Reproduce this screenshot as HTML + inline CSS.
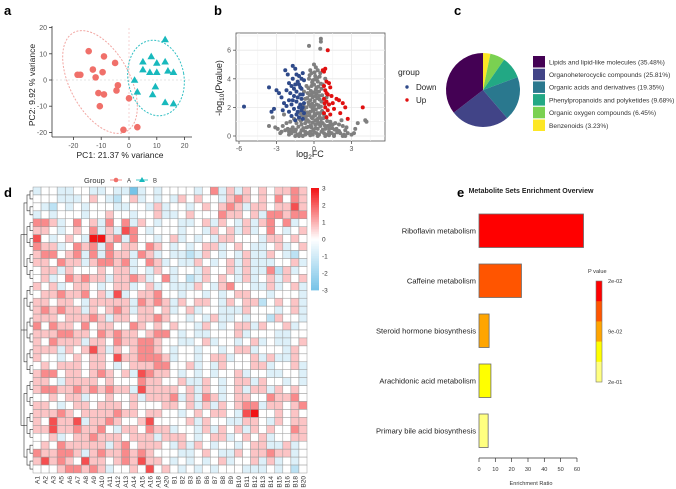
<!DOCTYPE html>
<html><head><meta charset="utf-8">
<style>
html,body{margin:0;padding:0;background:#fff;}
body{width:676px;height:489px;overflow:hidden;position:relative;font-family:"Liberation Sans",sans-serif;}
svg{position:absolute;left:0;top:0;}
</style></head>
<body>
<svg id="fig" width="676" height="489" viewBox="0 0 676 489" xmlns="http://www.w3.org/2000/svg">
<g font-family="Liberation Sans, sans-serif" font-weight="bold" font-size="13" fill="#000">
<text x="4" y="15">a</text>
<text x="214" y="15">b</text>
<text x="454" y="15">c</text>
<text x="4" y="197">d</text>
<text x="457" y="197">e</text>
</g>
<g id="pca"></g>
<g id="volcano"></g>
<g id="pie"></g>
<g id="heat"></g>
<g id="enrich"></g>
</svg>
<script>
const NS="http://www.w3.org/2000/svg";
function mk(parent,tag,attrs,text){const e=document.createElementNS(NS,tag);for(const k in attrs)e.setAttribute(k,attrs[k]);if(text!==undefined)e.textContent=text;parent.appendChild(e);return e;}

/* ---------- Panel a: PCA ---------- */
const pcaGroupA=[[-14.5,11],[-9,9],[-5,6.5],[-13,4],[-18.5,2],[-17.5,2],[-9.5,3],[-12,1],[-4,-2],[-4.5,-4],[-11,-5],[-9,-5.5],[0,-7],[-10.5,-10],[-2,-19],[3,-18]];
const pcaGroupB=[[13,15.5],[8,9],[5,7],[10,6.5],[13,7],[5,4],[7.5,3],[10,3],[14,3.5],[16,3],[2,0],[9.5,-2.5],[3,-4.5],[8.5,-5.5],[13,-8.5],[16,-9]];
const pcaXTicks=[-20,-10,0,10,20];
const pcaYTicks=[20,10,0,-10,-20];
(function(){
 const g=document.getElementById('pca');
 const sx=v=>129+v*2.78, sy=v=>80-v*2.62;
 mk(g,'line',{x1:sx(0),y1:28,x2:sx(0),y2:137,stroke:'#f3c9c9','stroke-dasharray':'2,2','stroke-width':0.8});
 mk(g,'line',{x1:52,y1:sy(0),x2:190,y2:sy(0),stroke:'#ddd','stroke-dasharray':'2,2','stroke-width':0.8});
 let e=mk(g,'ellipse',{cx:100,cy:82,rx:30,ry:56,transform:'rotate(-28 100 82)',fill:'none',stroke:'#f2a7a3','stroke-dasharray':'2,1.5','stroke-width':1});
 
 e=mk(g,'ellipse',{cx:156,cy:78,rx:28,ry:38,transform:'rotate(-10 156 78)',fill:'none',stroke:'#33c0c4','stroke-dasharray':'2,1.5','stroke-width':1});
 
 mk(g,'line',{x1:52,y1:26,x2:52,y2:137,stroke:'#333','stroke-width':0.8});
 mk(g,'line',{x1:52,y1:137,x2:192,y2:137,stroke:'#333','stroke-width':0.8});
 pcaXTicks.forEach(t=>{mk(g,'line',{x1:sx(t),y1:137,x2:sx(t),y2:140,stroke:'#333','stroke-width':0.8});const tx=mk(g,'text',{x:sx(t),y:148,'font-size':7,fill:'#555','text-anchor':'middle'},t);});
 pcaYTicks.forEach(t=>{mk(g,'line',{x1:49,y1:sy(t),x2:52,y2:sy(t),stroke:'#333','stroke-width':0.8});const tx=mk(g,'text',{x:47,y:sy(t)+2.5,'font-size':7,fill:'#555','text-anchor':'end'},t);});
 let t=mk(g,'text',{x:120,y:158,'font-size':8.5,fill:'#222','text-anchor':'middle'},'PC1:  21.37 % variance');
 t=mk(g,'text',{x:35,y:85,'font-size':8.5,fill:'#222','text-anchor':'middle',transform:'rotate(-90 35 85)'},'PC2:  9.92 % variance');
 pcaGroupA.forEach(p=>{const c=mk(g,'circle',{cx:sx(p[0]),cy:sy(p[1]),r:3.3,fill:'#f0706a'});});
 pcaGroupB.forEach(p=>{const x=sx(p[0]),y=sy(p[1]);const c=mk(g,'polygon',{points:`${x},${y-3.8} ${x-3.8},${y+2.8} ${x+3.8},${y+2.8}`,fill:'#18b9bd'});});
})();

/* ---------- Panel b: Volcano ---------- */
const volGray=[[-0.1,0.1],[0.2,0.2],[-0.3,0.3],[0.4,0.1],[-0.5,0.2],[0.6,0.3],[-0.7,0.1],[0.8,0.2],[-0.9,0.4],[1.0,0.1],[-1.1,0.2],[1.2,0.3],[-1.3,0.1],[1.4,0.2],[-1.5,0.3],[1.6,0.1],[-1.8,0.2],[1.9,0.3],[-2.0,0.1],[2.1,0.2],[-2.3,0.4],[2.4,0.1],[-2.6,0.3],[2.7,0.2],[-2.9,0.5],[3.0,0.1],[-0.2,0.6],[0.1,0.8],[-0.4,1.0],[0.3,1.2],[-0.6,1.4],[0.5,1.6],[-0.8,1.8],[0.7,0.9],[-0.1,1.9],[0.2,2.2],[-0.3,2.5],[0.4,2.8],[-0.5,3.0],[0.6,3.3],[-0.2,3.5],[0.3,3.8],[-0.4,4.0],[0.1,4.2],[0.5,4.4],[-0.6,2.0],[0.8,1.5],[-1.0,0.8],[1.1,0.7],[-1.2,1.2],[1.3,1.0],[-1.4,0.9],[1.5,0.8],[-1.6,1.2],[1.7,0.9],[-1.9,1.0],[2.0,0.8],[-2.2,0.9],[2.2,1.1],[-2.5,0.7],[2.6,0.6],[-3.1,0.6],[-3.6,0.7],[3.3,0.5],[2.3,0.7],[4.1,1.1],[4.2,1.0],[-0.4,6.3],[0.55,6.8],[0.55,6.6],[0.5,6.1],[0.0,5.0],[-0.3,4.6],[0.2,3.0],[-0.1,2.7],[0.0,1.4],[0.3,0.5],[-0.6,0.6],[0.9,0.5],[-1.0,0.4],[1.2,0.5],[-1.7,0.6],[1.8,0.5],[-2.1,0.5],[2.5,0.4],[-2.7,0.2],[3.2,0.2],[0.6,2.4],[-0.7,2.6],[0.7,3.6],[-0.8,3.1],[0.9,4.0],[-0.9,0.0],[0.9,0.0],[-1.5,0.0],[1.6,0.0],[2.3,0.0],[2.5,0.0],[-3.3,1.3],[-2.4,1.5],[3.5,0.9],[-1.1,1.6],[1.0,2.7],[0.0,0.3],[0.1,1.1],[-0.2,1.3],[0.4,2.0],[-0.4,2.2],[0.2,3.4],[-0.1,3.9],[0.3,4.6],[-0.5,1.1],[0.6,1.2],[-0.7,0.9],[0.5,0.7],
[-0.05,0.45],[0.15,0.55],[-0.25,0.75],[0.35,0.85],[-0.45,0.65],[0.55,0.95],[-0.65,1.15],[0.25,1.05],[-0.15,1.25],[0.45,1.35],[-0.35,1.45],[0.05,1.55],[-0.55,1.65],[0.65,1.75],[-0.75,1.35],[0.75,1.25],[-0.05,1.75],[0.15,1.85],[-0.25,2.05],[0.35,2.15],[-0.45,2.35],[0.55,2.05],[-0.15,2.25],[0.05,2.45],[0.25,2.65],[-0.35,2.85],[0.45,2.55],[-0.55,2.65],[0.65,2.85],[-0.05,3.05],[0.15,3.25],[-0.25,3.15],[0.35,3.45],[-0.45,3.35],[0.55,3.65],[-0.15,3.75],[0.05,3.95],[0.25,4.05],[-0.35,4.25],[0.45,4.15],[0.05,4.45],[-0.2,4.4],[0.15,4.8],[-0.85,0.55],[0.85,0.75],[-1.05,1.05],[1.05,1.05],[-1.25,0.65],[1.25,0.75],[-1.45,0.45],[1.45,0.55],[-1.65,0.35],[1.65,0.45],[-1.85,0.45],[1.85,0.25],[-0.95,1.45],[0.95,1.35],[-0.85,2.15],[0.85,2.25],[-0.7,0.3],[0.7,0.45],[-0.3,0.05],[0.3,0.0],[-1.2,0.0],[1.2,0.05],[-2.0,0.3],[2.0,0.35],[-0.1,0.95],[0.1,1.45],[-0.3,1.7],[0.3,1.6],[0.0,2.1],[-0.2,2.9],[0.1,2.8],[0.4,3.1],[-0.6,3.5],[0.0,3.6]];
const volDown=[[-5.6,2.05],[-3.6,3.4],[-3.2,1.9],[-3.4,1.7],[-3.0,3.2],[-2.8,3.0],[-2.6,2.7],[-2.4,2.3],[-2.3,4.6],[-2.1,4.3],[-1.7,4.9],[-1.5,4.7],[-1.4,4.3],[-1.2,4.2],[-1.0,4.0],[-2.0,3.7],[-1.8,3.5],[-1.6,3.3],[-1.4,3.1],[-1.2,3.6],[-1.0,3.3],[-0.8,3.9],[-2.2,2.1],[-2.0,2.5],[-1.8,2.2],[-1.6,2.8],[-1.4,2.4],[-1.2,2.0],[-1.0,2.6],[-0.8,2.3],[-2.0,1.7],[-1.8,1.4],[-1.6,1.9],[-1.4,1.5],[-1.2,1.3],[-1.0,1.8],[-0.8,1.6],[-1.7,4.0],[-2.5,1.8],[-0.9,4.4],[-1.1,2.9],[-1.3,3.8],[-2.2,3.2],[-0.9,1.2],[-1.5,1.1],[-1.3,2.7],[-1.5,3.6],[-1.1,3.4],[-0.9,2.9],[-1.7,2.5],[-1.9,3.0],[-1.1,2.2],[-0.9,2.0],[-1.3,1.7]];
const volUp=[[1.1,6.0],[0.7,4.6],[0.8,4.5],[0.9,4.7],[1.0,3.8],[1.2,3.7],[1.3,3.4],[0.9,3.2],[1.1,2.9],[0.8,2.6],[1.0,2.4],[1.2,2.2],[0.9,2.0],[1.1,1.8],[0.8,1.6],[1.4,2.8],[1.5,2.3],[1.8,2.6],[2.0,2.5],[2.3,2.3],[2.5,2.0],[2.1,1.6],[2.7,1.2],[3.9,2.0],[1.3,1.5],[1.6,1.9],[1.0,1.3],[0.8,3.5],[1.0,3.0],[0.85,2.3]];
const volXTicks=[-6,-3,0,3];
const volYTicks=[0,2,4,6];
(function(){
 const g=document.getElementById('volcano');
 const sx=v=>314+v*12.5, sy=v=>136-v*14.3;
 const L=236,R=385,T=33,B=141;
 mk(g,'rect',{x:L,y:T,width:R-L,height:B-T,fill:'#fff',stroke:'#555','stroke-width':0.8});
 [-4.5,-1.5,1.5,4.5].forEach(v=>{if(sx(v)>L&&sx(v)<R)mk(g,'line',{x1:sx(v),y1:T,x2:sx(v),y2:B,stroke:'#f2f2f2','stroke-width':0.6});});
 [1,3,5,7].forEach(v=>{if(sy(v)>T)mk(g,'line',{x1:L,y1:sy(v),x2:R,y2:sy(v),stroke:'#f2f2f2','stroke-width':0.6});});
 volXTicks.forEach(t=>{mk(g,'line',{x1:sx(t),y1:T,x2:sx(t),y2:B,stroke:'#e8e8e8','stroke-width':0.8});mk(g,'line',{x1:sx(t),y1:B,x2:sx(t),y2:B+3,stroke:'#555','stroke-width':0.8});const tx=mk(g,'text',{x:sx(t),y:B+10,'font-size':7,fill:'#555','text-anchor':'middle'},t);});
 volYTicks.forEach(t=>{mk(g,'line',{x1:L,y1:sy(t),x2:R,y2:sy(t),stroke:'#e8e8e8','stroke-width':0.8});mk(g,'line',{x1:L-3,y1:sy(t),x2:L,y2:sy(t),stroke:'#555','stroke-width':0.8});const tx=mk(g,'text',{x:L-5,y:sy(t)+2.5,'font-size':7,fill:'#555','text-anchor':'end'},t);});
 volGray.forEach(p=>{const c=mk(g,'circle',{cx:sx(p[0]),cy:sy(p[1]),r:2,fill:'#7f7f7f'});});
 volDown.forEach(p=>{const c=mk(g,'circle',{cx:sx(p[0]),cy:sy(p[1]),r:2,fill:'#2f4a8a'});});
 volUp.forEach(p=>{const c=mk(g,'circle',{cx:sx(p[0]),cy:sy(p[1]),r:2,fill:'#e01010'});});
 let t=mk(g,'text',{x:310,y:157,'font-size':9,fill:'#222','text-anchor':'middle'});
 t.innerHTML='log<tspan font-size="6.5" dy="2">2</tspan><tspan dy="-2">FC</tspan>';
 t=mk(g,'text',{x:222,y:88,'font-size':9,fill:'#222','text-anchor':'middle',transform:'rotate(-90 222 88)'});
 t.innerHTML='-log<tspan font-size="6.5" dy="2">10</tspan><tspan dy="-2">(Pvalue)</tspan>';
 t=mk(g,'text',{x:398,y:75,'font-size':8.5,fill:'#222'},'group');
 mk(g,'circle',{cx:407,cy:87,r:1.7,fill:'#2f4a8a'});
 t=mk(g,'text',{x:416,y:90,'font-size':8,fill:'#222'},'Down');
 mk(g,'circle',{cx:407,cy:100,r:1.7,fill:'#e01010'});
 t=mk(g,'text',{x:416,y:103,'font-size':8,fill:'#222'},'Up');
})();

/* ---------- Panel c: Pie ---------- */
const pieLabels=['Lipids and lipid-like molecules (35.48%)','Organoheterocyclic compounds (25.81%)','Organic acids and derivatives (19.35%)','Phenylpropanoids and polyketides (9.68%)','Organic oxygen compounds (6.45%)','Benzenoids (3.23%)'];
const pieValues=[35.48,25.81,19.35,9.68,6.45,3.23];
const pieColors=['#440154','#414487','#2a788e','#22a884','#7ad151','#fde725'];
(function(){
 const g=document.getElementById('pie');
 const cx=483,cy=90,r=37;
 const total=pieValues.reduce((a,b)=>a+b,0);
 let acc=0;
 for(let i=pieValues.length-1;i>=0;i--){
  const a0=acc/total*2*Math.PI; acc+=pieValues[i]; const a1=acc/total*2*Math.PI;
  const x0=cx+r*Math.sin(a0),y0=cy-r*Math.cos(a0),x1=cx+r*Math.sin(a1),y1=cy-r*Math.cos(a1);
  const large=(a1-a0)>Math.PI?1:0;
  const p=mk(g,'path',{d:`M${cx},${cy} L${x0},${y0} A${r},${r} 0 ${large} 1 ${x1},${y1} Z`,fill:pieColors[i]});
  
 }
 pieLabels.forEach((lab,i)=>{
  const y=56+i*12.7;
  mk(g,'rect',{x:533,y:y,width:12,height:11.5,fill:pieColors[i]});
  const t=mk(g,'text',{x:549,y:y+8.3,'font-size':6.6,fill:'#333'},lab);
  
 });
})();

/* ---------- Panel d: Heatmap ---------- */
const heatCols=['A1','A2','A3','A5','A6','A7','A8','A9','A10','A11','A12','A13','A14','A15','A16','A18','A20','B1','B2','B3','B5','B6','B7','B8','B9','B10','B11','B12','B13','B14','B15','B16','B18','B20'];
// each char: value = (digit-4)*0.75, range -3..3
const heatRows=[
"34433443343303434"+"44434635354545565",
"44433345432453434"+"35454435654546465",
"43243434443344353"+"44345456535545575",
"34344434454434453"+"34544465545366566",
"66534645364635434"+"43345354353564634",
"55434546353764344"+"43443545353464345",
"74345438856364434"+"53434355444355454",
"65534656364554654"+"34345534543345345",
"56645636365536534"+"33235434353354324",
"55465535665634653"+"43354345353334453",
"45535444545534354"+"34435445353362534",
"45346565535565346"+"34235454353453545",
"54534554345534534"+"33354356443353453",
"45565564537345564"+"43443434554434443",
"55455435555536565"+"35455435455245453",
"56565535456535545"+"34534433354443453",
"55545556535545565"+"44343533434425443",
"64655464554465454"+"54435434553544534",
"55566554656554566"+"43433444534443344",
"54655535546556654"+"43345344345343345",
"55535457535456654"+"34434434553444354",
"54434545547556665"+"34434553445353354",
"45455545543455566"+"44534354445534453",
"56645545654537655"+"43434344534433443",
"55435555454446554"+"45335434553544343",
"56655656565537555"+"54535434535535454",
"44545534454453555"+"63536534554465564",
"55434554555454445"+"54535354566355456",
"55565455556554554"+"43454554378445454",
"54755735565445744"+"44535443355435455",
"55755655643554655"+"34435354535454465",
"44534556555455535"+"55434553454534455",
"45465555535645554"+"35354344345533534",
"65566535655656544"+"43345433545565534",
"57565475545657554"+"34343453445353434",
"44456656534454745"+"43434344433343424"];
const heatScaleTicks=[3,2,1,0,-1,-2,-3];
(function(){
 const g=document.getElementById('heat');
 const X0=33,Y0=187,W=274,H=286;
 const nc=heatCols.length,nr=heatRows.length,cw=W/nc,rh=H/nr;
 function col(v){
  const t=Math.max(-1,Math.min(1,v/3));
  let c0=[255,255,255],c1=t>=0?[242,20,22]:[120,196,232];const a=Math.abs(t);
  return `rgb(${c0.map((c,i)=>Math.round(c+(c1[i]-c)*a)).join(',')})`;
 }
 heatRows.forEach((row,ri)=>{
  for(let ci=0;ci<nc;ci++){
   const d=parseInt(row.charAt(ci)||'4',10);const v=(d-4)*0.75;
   const r=mk(g,'rect',{x:X0+ci*cw,y:Y0+ri*rh,width:cw,height:rh,fill:col(v),stroke:'#9a9a9a','stroke-width':0.5});
   
  }
 });
 heatCols.forEach((c,ci)=>{
  const x=X0+ci*cw+cw/2+2.5,y=Y0+H+3;
  const t=mk(g,'text',{x:x,y:y,'font-size':6.5,fill:'#333','text-anchor':'end',transform:`rotate(-90 ${x} ${y})`},c);
  
 });
 const dg=mk(g,'g',{stroke:'#333','stroke-width':0.6,fill:'none'});
 
 const ry=i=>Y0+i*rh+rh/2;
 const mids=[];
 for(let i=0;i<nr;i+=2){const y1=ry(i),y2=ry(Math.min(i+1,nr-1));mk(dg,'path',{d:`M${X0},${y1}H30V${y2}H${X0}`});mids.push((y1+y2)/2);}
 const mids2=[];
 for(let i=0;i<mids.length;i+=2){const y1=mids[i],y2=mids[Math.min(i+1,mids.length-1)];mk(dg,'path',{d:`M30,${y1}H27V${y2}H30`});mids2.push((y1+y2)/2);}
 const mids3=[];
 for(let i=0;i<mids2.length;i+=3){const a=mids2[i],b=mids2[Math.min(i+2,mids2.length-1)];mk(dg,'path',{d:`M27,${a}H24V${b}H27`});if(i+1<mids2.length)mk(dg,'path',{d:`M27,${mids2[i+1]}H24`});mids3.push((a+b)/2);}
 mk(dg,'path',{d:`M24,${mids3[0]}H21V${mids3[mids3.length-1]}H24`});
 for(let i=1;i<mids3.length-1;i++)mk(dg,'path',{d:`M24,${mids3[i]}H21`});
 const cbX=311,cbY=188,cbH=102;
 for(let i=0;i<60;i++){const v=3-6*i/59;mk(g,'rect',{x:cbX,y:cbY+i*cbH/60,width:8,height:cbH/60+0.4,fill:col(v)});}
 heatScaleTicks.forEach(t=>{const y=cbY+(3-t)/6*cbH;const tx=mk(g,'text',{x:322,y:y+2.5,'font-size':6.5,fill:'#333'},t);});
 let t=mk(g,'text',{x:84,y:183,'font-size':7.5,fill:'#333'},'Group');
 mk(g,'line',{x1:110,y1:180,x2:122,y2:180,stroke:'#f0706a','stroke-width':0.8});
 mk(g,'circle',{cx:116,cy:180,r:2.3,fill:'#f0706a'});
 t=mk(g,'text',{x:127,y:182.5,'font-size':6,fill:'#333'},'A');
 mk(g,'line',{x1:136,y1:180,x2:148,y2:180,stroke:'#18b9bd','stroke-width':0.8});
 mk(g,'polygon',{points:'142,177 139,182 145,182',fill:'#18b9bd'});
 t=mk(g,'text',{x:153,y:182.5,'font-size':6,fill:'#333'},'B');
})();

/* ---------- Panel e: Enrichment ---------- */
const enrichNames=['Riboflavin metabolism','Caffeine metabolism','Steroid hormone biosynthesis','Arachidonic acid metabolism','Primary bile acid biosynthesis'];
const enrichRatios=[64,26,6.2,7.3,5.6];
const enrichColors=['#ff0000','#ff5500','#ffa500','#ffff00','#ffff80'];
const enrichTicks=[0,10,20,30,40,50,60];
const pLegendColors=['#ff0000','#ff5500','#ffa500','#ffff00','#ffff80'];
const pLegendLabels=['2e-02','9e-02','2e-01'];
(function(){
 const g=document.getElementById('enrich');
 const sx=v=>479+v*1.633;
 let t=mk(g,'text',{x:531,y:193,'font-size':7,'font-weight':'bold',fill:'#222','text-anchor':'middle'},'Metabolite Sets Enrichment Overview');
 
 enrichNames.forEach((n,i)=>{
  const y=214+i*50;
  const r=mk(g,'rect',{x:sx(0),y:y,width:sx(enrichRatios[i])-sx(0),height:33.5,fill:enrichColors[i],stroke:'#6b6b6b','stroke-width':0.8});
  
  const tx=mk(g,'text',{x:476,y:y+19.5,'font-size':7.6,fill:'#222','text-anchor':'end'},n);
  
 });
 mk(g,'line',{x1:sx(0),y1:458,x2:sx(60),y2:458,stroke:'#333','stroke-width':0.7});
 enrichTicks.forEach(v=>{mk(g,'line',{x1:sx(v),y1:458,x2:sx(v),y2:462,stroke:'#333','stroke-width':0.7});const tx=mk(g,'text',{x:sx(v),y:471,'font-size':5.6,fill:'#333','text-anchor':'middle'},v);});
 t=mk(g,'text',{x:531,y:485,'font-size':5.6,fill:'#333','text-anchor':'middle'},'Enrichment Ratio');
 t=mk(g,'text',{x:588,y:273,'font-size':5.6,fill:'#333'},'P value');
 const bx=596,by=281,bh=101;
 pLegendColors.forEach((c,i)=>{mk(g,'rect',{x:bx,y:by+i*bh/5,width:6,height:bh/5+0.3,fill:c});});
 mk(g,'rect',{x:bx,y:by,width:6,height:bh,fill:'none',stroke:'#777','stroke-width':0.6});
 pLegendLabels.forEach((l,i)=>{const tx=mk(g,'text',{x:608,y:by+i*bh/2+2,'font-size':5.6,fill:'#333'},l);});
})();
</script>
</body></html>
